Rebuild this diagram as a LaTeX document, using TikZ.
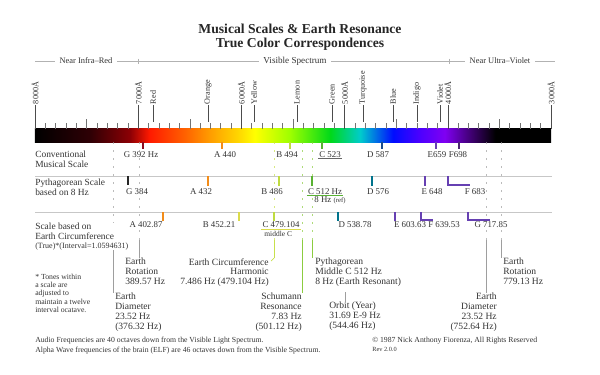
\documentclass[tikz,border=0pt]{standalone}
\usepackage{fontspec}
\setmainfont{Liberation Serif}
\usetikzlibrary{positioning}

% spectrum colours
\definecolor{spdrk}{rgb}{0.18,0.00,0.02}
\definecolor{spmar}{rgb}{0.55,0.00,0.02}
\definecolor{spred}{rgb}{1.00,0.10,0.00}
\definecolor{spror}{rgb}{1.00,0.38,0.00}
\definecolor{sporg}{rgb}{1.00,0.62,0.00}
\definecolor{spamb}{rgb}{1.00,0.86,0.00}
\definecolor{spyel}{rgb}{1.00,1.00,0.00}
\definecolor{splem}{rgb}{0.62,1.00,0.00}
\definecolor{spgrn}{rgb}{0.00,0.85,0.10}
\definecolor{sptrq}{rgb}{0.00,0.80,0.80}
\definecolor{spblu}{rgb}{0.00,0.05,1.00}
\definecolor{spind}{rgb}{0.30,0.00,1.00}
\definecolor{spvio}{rgb}{0.50,0.00,0.95}
\definecolor{spdvi}{rgb}{0.25,0.00,0.45}
% note tick colours
\definecolor{tkred}{rgb}{0.55,0.05,0.12}
\definecolor{tkorg}{rgb}{0.95,0.55,0.10}
\definecolor{tkygr}{rgb}{0.75,0.86,0.25}
\definecolor{tkyel}{rgb}{0.86,0.86,0.30}
\definecolor{tkgrn}{rgb}{0.35,0.70,0.20}
\definecolor{tkblu}{rgb}{0.10,0.30,0.55}
\definecolor{tktrq}{rgb}{0.00,0.45,0.55}
\definecolor{tkpur}{rgb}{0.40,0.25,0.70}
\definecolor{tkdpu}{rgb}{0.30,0.15,0.45}
% guides and text
\definecolor{gdgry}{rgb}{0.62,0.62,0.62}
\definecolor{gdygr}{rgb}{0.78,0.88,0.30}
\definecolor{gdgrn}{rgb}{0.55,0.80,0.25}
\definecolor{txt}{rgb}{0.20,0.20,0.20}

\pgfdeclarehorizontalshading{spectrum}{100bp}{color(0bp)=(black); color(25bp)=(black);
  color(30.3bp)=(spdrk); color(34.2bp)=(spmar); color(36.1bp)=(spred); color(39.5bp)=(spror);
  color(42bp)=(sporg); color(44.9bp)=(spamb); color(46.3bp)=(spyel); color(49.7bp)=(splem);
  color(53.6bp)=(spgrn); color(56.5bp)=(sptrq); color(59.7bp)=(spblu); color(62.3bp)=(spind);
  color(64.7bp)=(spvio); color(67.2bp)=(spdvi); color(69.6bp)=(black); color(75bp)=(black);
  color(100bp)=(black)}

\newcommand{\fsz}[2]{\fontsize{#1}{#2}\selectfont}

\begin{document}
\begin{tikzpicture}[x=0.025cm, y=-0.025cm,
  every node/.style={text=txt},
  hdr/.style={font=\fsz{6}{7}, fill=white, inner xsep=3pt, inner ysep=1pt},
  rot/.style={rotate=90, anchor=west, font=\fsz{5.8}{6}, inner sep=0.5pt},
  rowlbl/.style={anchor=north west, align=left, font=\fsz{6.7}{6.9}, inner sep=0pt, fill=white},
  note/.style={font=\fsz{6.3}{7}, inner sep=0.6pt, fill=white},
  ann/.style={align=left, font=\fsz{6.8}{7}, inner sep=0pt},
  tk/.style={line width=0.8pt},
  sep/.style={draw=black!22, line width=0.5pt},
  guide/.style={line width=0.5pt},
  gap/.style={guide, dash pattern=on 1.3pt off 4.4pt, opacity=0.7}]
\useasboundingbox (0,0) rectangle (600,375);

\node[font=\bfseries\fsz{9.7}{10}, align=center, text=black!85] (ttl) at (300,37)
  {Musical Scales \& Earth Resonance\\True Color Correspondences};

% spectrum header
\draw[black!30, line width=0.5pt] (35,61) -- (555,61);
\draw[black!30, line width=0.5pt] (138,58.5) -- (138,63.5);
\draw[black!30, line width=0.5pt] (449,58.5) -- (449,63.5);
\node[hdr] (nir) at (86,61) {Near Infra--Red};
\node[hdr, font=\fsz{6.5}{7}] (vis) at (295,61) {Visible Spectrum};
\node[hdr] (nuv) at (500,61) {Near Ultra--Violet};

% spectrum bar
\node[shade, shading=spectrum, inner sep=0pt, outer sep=0pt,
  minimum width=12.9cm, minimum height=0.325cm] (bar) at (293,135.5) {};
\foreach \i in {1,...,49}
  \draw[black!55, line width=0.4pt] ({35+\i*10.32},123) -- ({35+\i*10.32},129);
\foreach \i in {5,15,25,35,45}
  \draw[black!55, line width=0.4pt] ({35+\i*10.32},119) -- ({35+\i*10.32},129);

\foreach \w/\x in {8000/35, 7000/138.2, 6000/241.4, 5000/344.6, 4000/447.8, 3000/551}{
  \node[rot] (w\w) at (\x,105) {\w Å};
  \draw[black!70, line width=0.4pt] (w\w.west) -- (w\w.west |- bar.north);
}
\foreach \c/\x in {Red/153, Orange/208, Yellow/254, Lemon/297, Green/332,
                   Turquoise/363, Blue/393, Indigo/417, Violet/440}{
  \node[rot] (\c) at (\x,105) {\c};
  \draw[black!70, line width=0.4pt] (\c.west) -- ++(0,17);
}

% earth resonance notes
\node[ann, anchor=north west] (erl) at (125,258) {Earth\\Rotation\\389.57 Hz};
\node[ann, anchor=north west] (edl) at (115,293) {Earth\\Diameter\\23.52 Hz\\(376.32 Hz)};
\node[ann, anchor=north east, align=right] (ech) at (269,258)
  {Earth Circumference\\Harmonic\\7.486 Hz (479.104 Hz)};
\node[ann, anchor=north east, align=right] (sch) at (302,293)
  {Schumann\\Resonance\\7.83 Hz\\(501.12 Hz)};
\node[ann, anchor=north west] (pmc) at (315,258)
  {Pythagorean\\Middle C 512 Hz\\8 Hz (Earth Resonant)};
\node[ann, anchor=north west] (orb) at (329,301.5) {Orbit (Year)\\31.69 E-9 Hz\\(544.46 Hz)};
\node[ann, anchor=north west] (err) at (503,258) {Earth\\Rotation\\779.13 Hz};
\node[ann, anchor=north east, align=right] (edr) at (497,293)
  {Earth\\Diameter\\23.52 Hz\\(752.64 Hz)};

\foreach \x/\col/\tgt in {113/gdgry/edl, 139/gdgry/erl, 274/gdygr/ech, 302/gdgrn/sch,
                          312/gdgrn/pmc, 486/gdgry/edr, 501/gdgry/err}{
  \coordinate (g\tgt) at (\x,240);
  \draw[gap, \col] (g\tgt |- bar.south) -- (g\tgt);
  \draw[guide, \col] (g\tgt) -- (g\tgt |- \tgt.north);
}
\draw[guide, gdygr] (gech |- ech.north) -- ++(-3,3);
\coordinate (gorb) at (345,292);
\draw[guide, gdgry] (gorb) -- (gorb |- orb.north);

% scale rows
\node[rowlbl] (conv) at (35,151) {Conventional\\Musical Scale};
\node[rowlbl] (pyth) at (35,179) {Pythagorean Scale\\based on 8 Hz};
\node[rowlbl] (circ) at (35,222.5)
  {Scale based on\\Earth Circumference\\{\fsz{5.7}{6.9}(True)*(Interval=1.0594631)}};
\draw[sep] (35,176) -- (552,176);
\draw[sep] (35,212) -- (552,212);

\node[note] (g392) at (141,154.5) {G 392 Hz};
\node[note] (a440) at (225,154.5) {A 440};
\node[note] (b494) at (287,154.5) {B 494};
\node[note] (c523) at (330,154.5) {C 523};
\node[note] (d587) at (378,154.5) {D 587};
\node[note] (e659) at (437,154.5) {E659};
\node[note] (f698) at (458,154.5) {F698};
\draw[black!60, line width=0.4pt] (c523.south west) -- (c523.south east);
\foreach \x/\col in {143/tkred, 222/tkorg, 290/tkygr, 322/tkgrn, 382/tkblu, 436/tkpur, 459/tkdpu}
  \draw[tk, \col] (\x,142) -- ++(0,7);

\node[note] (g384) at (137,191.3) {G 384};
\node[note] (a432) at (201,191.3) {A 432};
\node[note] (b486) at (272,191.3) {B 486};
\node[note] (c512) at (325,191.3) {C 512 Hz};
\node[note, below=0.2pt of c512, xshift=1.25mm] (ref8) {8 Hz {\fsz{4.8}{6}(ref)}};
\node[note] (d576) at (378,191.3) {D 576};
\node[note] (e648) at (432,191.3) {E 648};
\node[note] (f683) at (475,191.3) {F 683};
\draw[tkgrn, line width=0.5pt] (c512.south west) -- (c512.south east);
\draw[tk, black!85, line width=1.1pt] (128,176) -- ++(0,9);
\foreach \x/\col in {208/tkorg, 279/tkygr, 312/tkgrn, 372/tktrq, 425/tkpur}
  \draw[tk, \col] (\x,176) -- ++(0,10);
\draw[tk, tkpur] (448,176) |- (470,185);

\node[note] (a403) at (146,225) {A 402.87};
\node[note] (b452) at (219,225) {B 452.21};
\node[note] (c479) at (281,225) {C 479.104};
\node[note, below=0.5pt of c479, xshift=-0.7mm, font=\fsz{5.3}{6}] (midc) {middle C};
\node[note] (d539) at (355,225) {D 538.78};
\node[note] (e604) at (410,225) {E 603.63};
\node[note] (f640) at (444,225) {F 639.53};
\node[note] (g718) at (491,225) {G 717.85};
\draw[tkyel, line width=0.5pt] (c479.south west) -- (c479.south east);
\foreach \x/\col in {163/tkorg, 239/tkyel, 274/tkygr, 338/tktrq, 395/tkpur}
  \draw[tk, \col] (\x,212) -- ++(0,9);
\draw[tk, tkpur] (421,212) |- (433,220);
\draw[tk, tkpur] (468,212) |- (490,220);

% side note and footer
\node[anchor=north west, align=left, font=\fsz{5.5}{5.8}, inner sep=0pt] (tones) at (35,274)
  {* Tones within\\a scale are\\adjusted to\\maintain a twelve\\interval ocatave.};
\node[anchor=north west, align=left, font=\fsz{5.5}{6.6}, inner sep=0pt] (audio) at (35,337)
  {Audio Frequencies are 40 octaves down from the Visible Light Spectrum.\\
   Alpha Wave frequencies of the brain (ELF) are 46 octaves down from the Visible Spectrum.};
\node[anchor=north west, align=left, font=\fsz{5.5}{6.6}, inner sep=0pt] (copy) at (372,337)
  {© 1987 Nick Anthony Fiorenza, All Rights Reserved\\{\fsz{4.5}{6.6}Rev 2.0.0}};
\end{tikzpicture}
\end{document}
